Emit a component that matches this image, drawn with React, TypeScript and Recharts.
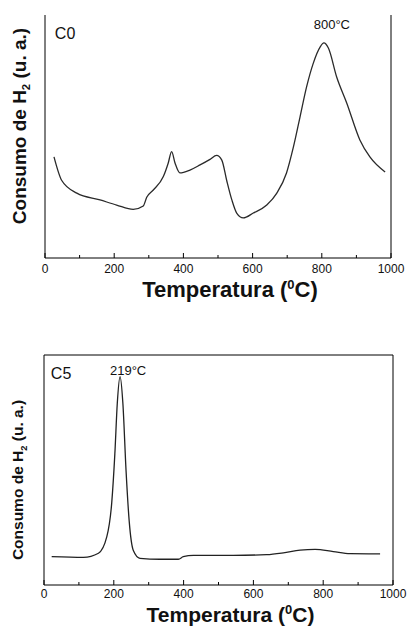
import { LineChart, Line, XAxis, YAxis, ReferenceLine, ReferenceDot, Label } from "recharts"

// C0 sample: temperature (°C) and H2 consumption (a.u., 0-100 of axis height)
const c0Temp = [26, 48, 92, 159, 207, 255, 284, 294, 313, 342, 356, 366, 376, 390, 419, 448, 477, 496, 511, 525, 540, 554, 573, 602, 641, 670, 698, 718, 737, 756, 775, 795, 806, 819, 843, 872, 910, 939, 983]
const c0Signal = [41.6, 32, 26.7, 23.9, 21.8, 20, 21.4, 25, 28, 33.5, 39, 43.8, 39, 35, 36.2, 38.3, 40.6, 42.2, 40.3, 32, 23.9, 18.5, 16.5, 18.5, 21.8, 26.7, 35, 45.7, 58, 70.4, 80, 86.8, 88.5, 86.4, 74.5, 63.8, 48.6, 41.6, 35.4]

// C5 sample
const c5Temp = [22, 113, 156, 180, 194, 203, 210, 218, 226, 235, 244, 256, 275, 332, 385, 399, 428, 542, 638, 686, 734, 777, 829, 877, 963]
const c5Signal = [12.3, 12, 13.8, 21, 35.6, 57, 79, 90.6, 79, 50, 28, 15, 11.6, 11.2, 11.2, 12.3, 12.9, 12.9, 13.2, 14, 15.2, 15.5, 14.5, 13.6, 13.5]

const xTicks = [0, 100, 200, 300, 400, 500, 600, 700, 800, 900, 1000]
const majorTicks = [0, 200, 400, 600, 800, 1000]

const c0Data = c0Temp.map((t, i) => ({ t, v: c0Signal[i] }))
const c5Data = c5Temp.map((t, i) => ({ t, v: c5Signal[i] }))

const FONT = "'Liberation Sans', Arial, sans-serif"

const InTick = ({ x, y, payload, labelDy = 15 }: any) => {
  const major = majorTicks.includes(payload.value)
  return (
    <g>
      <line x1={x} x2={x} y1={y} y2={y - (major ? 5 : 3)} stroke="#000" />
      {major && (
        <text x={x} y={y + labelDy} textAnchor="middle" fontSize={12} fill="#111" fontFamily={FONT}>
          {payload.value}
        </text>
      )}
    </g>
  )
}

const XTitle = ({ viewBox, dyTitle, size }: any) => {
  const cx = viewBox.x + viewBox.width / 2 + 12
  const y = viewBox.y + dyTitle
  return (
    <text x={cx} y={y} textAnchor="middle" fontSize={size} fontWeight="bold" fill="#111" fontFamily={FONT}>
      Temperatura (<tspan fontSize={13} dy={-8}>0</tspan>
      <tspan dy={8}>C)</tspan>
    </text>
  )
}

const YTitle = ({ cx, cy, size }: any) => (
  <text
    x={cx}
    y={cy}
    transform={`rotate(-90, ${cx}, ${cy})`}
    textAnchor="middle"
    fontSize={size}
    fontWeight="bold"
    fill="#111"
    fontFamily={FONT}
  >
    Consumo de H<tspan fontSize={size * 0.6} dy={4}>2</tspan>
    <tspan dy={-4}> (u. a.)</tspan>
  </text>
)

export default function App() {
  return (
    <div style={{ position: "absolute", left: 0, top: 0, width: 408, height: 626, background: "#fff", fontFamily: FONT }}>
      <div style={{ position: "absolute", left: 0, top: 0 }}>
        <LineChart width={408} height={310} data={c0Data} margin={{ top: 15, right: 17, bottom: 22, left: 0 }}>
          <XAxis
            dataKey="t"
            type="number"
            domain={[0, 1000]}
            ticks={xTicks}
            tickSize={0}
            tickMargin={0}
            tick={<InTick labelDy={15} />}
            axisLine={{ stroke: "#000" }}
            height={30}
            interval={0}
          >
            <Label content={(p: any) => <XTitle {...p} dyTitle={39} size={22} />} />
          </XAxis>
          <YAxis
            type="number"
            domain={[0, 100]}
            width={45}
            tick={false}
            tickLine={false}
            axisLine={{ stroke: "#000" }}
          >
            <Label content={() => <YTitle cx={26} cy={126} size={19} />} />
          </YAxis>
          <ReferenceLine x={1000} stroke="#000" />
          <Line dataKey="v" type="monotone" stroke="#2a2a2a" strokeWidth={1.3} dot={false} isAnimationActive={false} />
          <ReferenceDot x={58} y={92.6} r={0} stroke="none" fill="none" label={{ value: "C0", position: "center", fontSize: 16, fill: "#111", fontFamily: FONT }} />
          <ReferenceDot x={829} y={96.3} r={0} stroke="none" fill="none" label={{ value: "800°C", position: "center", fontSize: 13, fill: "#111", fontFamily: FONT }} />
        </LineChart>
      </div>
      <div style={{ position: "absolute", left: 0, top: 320 }}>
        <LineChart width={408} height={306} data={c5Data} margin={{ top: 35, right: 15, bottom: 11, left: 0 }}>
          <XAxis
            dataKey="t"
            type="number"
            domain={[0, 1000]}
            ticks={xTicks}
            tickSize={0}
            tickMargin={0}
            tick={<InTick labelDy={13} />}
            axisLine={{ stroke: "#000" }}
            height={30}
            interval={0}
          >
            <Label content={(p: any) => <XTitle {...p} dyTitle={37} size={21} />} />
          </XAxis>
          <YAxis
            type="number"
            domain={[0, 100]}
            width={44}
            tick={false}
            tickLine={false}
            axisLine={{ stroke: "#000" }}
          >
            <Label content={() => <YTitle cx={23} cy={160} size={15.5} />} />
          </YAxis>
          <ReferenceLine x={1000} stroke="#000" />
          <ReferenceLine y={100} stroke="#000" />
          <Line dataKey="v" type="monotone" stroke="#222" strokeWidth={1.3} dot={false} isAnimationActive={false} />
          <ReferenceDot x={49} y={92.2} r={0} stroke="none" fill="none" label={{ value: "C5", position: "center", fontSize: 16, fill: "#111", fontFamily: FONT }} />
          <ReferenceDot x={241} y={93.5} r={0} stroke="none" fill="none" label={{ value: "219°C", position: "center", fontSize: 13, fill: "#111", fontFamily: FONT }} />
        </LineChart>
      </div>
    </div>
  )
}
